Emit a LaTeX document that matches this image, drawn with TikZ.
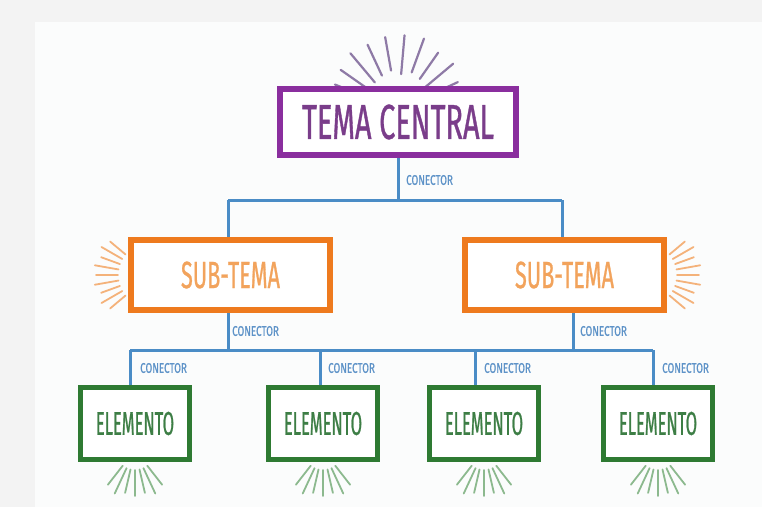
\documentclass[tikz,border=0pt]{standalone}
\usepackage{fontspec}
\newfontfamily\centralfont[FakeStretch=0.59,FakeBold=0.7]{Fira Sans}
\newfontfamily\subfont[FakeStretch=0.57,FakeBold=0.7]{Fira Sans}
\newfontfamily\elemfont[FakeStretch=0.5,FakeBold=0.7]{Fira Sans}
\newfontfamily\connfont[FakeStretch=0.7,FakeBold=0.6]{Fira Sans}
\definecolor{bgout}{HTML}{F3F3F3}
\definecolor{bgin}{HTML}{FBFCFC}
\definecolor{purp}{HTML}{8A2E9E}
\definecolor{purptext}{HTML}{7A3D8A}
\definecolor{purpray}{HTML}{8E7AA6}
\definecolor{oran}{HTML}{EE7A1E}
\definecolor{orantext}{HTML}{F2A35C}
\definecolor{oranray}{HTML}{F4B27A}
\definecolor{gree}{HTML}{2E7A32}
\definecolor{greetext}{HTML}{3D7E45}
\definecolor{greeray}{HTML}{8CB98E}
\definecolor{conn}{HTML}{4A8CC6}
\definecolor{conntext}{HTML}{5E93C8}
\begin{document}
\begin{tikzpicture}[x=1pt,y=-1pt,
  central/.style={draw=purp,line width=6pt,fill=white,minimum width=236pt,minimum height=66pt,inner sep=0pt,
    font=\centralfont\fontsize{49}{49}\selectfont,text=purptext},
  subtema/.style={draw=oran,line width=6pt,fill=white,minimum width=199pt,minimum height=70pt,inner sep=0pt,
    font=\subfont\fontsize{38}{38}\selectfont,text=orantext},
  elemento/.style={draw=gree,line width=5pt,fill=white,minimum width=109pt,minimum height=72pt,inner sep=0pt,
    font=\elemfont\fontsize{33}{33}\selectfont,text=greetext},
  link/.style={draw=conn,line width=3pt},
  conlabel/.style={anchor=west,inner sep=0pt,font=\connfont\fontsize{14}{14}\selectfont,text=conntext},
  ray/.style={line width=2.2pt,line cap=round}
]
\useasboundingbox (0,0) rectangle (762,507);
\fill[bgout] (0,0) rectangle (762,507);
\fill[bgin] (35,22) rectangle (762,507);

% rays
\foreach \a/\ri/\r in {25/38/66,40/36/72,55/38/70,70/40/76,85/36/75,100/40/74,115/38/72,130/36/74,145/38/70,158/40/68}
  \draw[ray,purpray,shift={(398,110)}] ({cos(\a)*\ri},{-sin(\a)*\ri}) -- ({cos(\a)*\r},{-sin(\a)*\r});
\foreach \a/\r in {140/52,150/56,160/52,170/56,180/54,190/56,200/52,210/56,220/52}
  \draw[ray,oranray,line width=1.8pt,shift={(150,275)}] ({cos(\a)*32},{-sin(\a)*32}) -- ({cos(\a)*\r},{-sin(\a)*\r});
\foreach \a/\r in {-40/52,-30/56,-20/52,-10/56,0/54,10/56,20/52,30/56,40/52}
  \draw[ray,oranray,line width=1.8pt,shift={(645,275)}] ({cos(\a)*32},{-sin(\a)*32}) -- ({cos(\a)*\r},{-sin(\a)*\r});
\foreach \cx in {135,323,484,658}
  \foreach \a/\r in {232/44,245/48,257/44,270/46,283/44,295/48,308/44}
    \draw[ray,greeray,line width=1.8pt,shift={(\cx,450)}] ({cos(\a)*20},{-sin(\a)*20}) -- ({cos(\a)*\r},{-sin(\a)*\r});

% nodes
\node[central] (tc) at (398,122) {TEMA CENTRAL};
\node[subtema] (st1) at (230.5,275) {SUB-TEMA};
\node[subtema] (st2) at (564.5,275) {SUB-TEMA};
\node[elemento] (el1) at (135,423.5) {ELEMENTO};
\node[elemento] (el2) at (323,423.5) {ELEMENTO};
\node[elemento] (el3) at (484,423.5) {ELEMENTO};
\node[elemento] (el4) at (658,423.5) {ELEMENTO};

% junctions
\coordinate (j0) at (398,200);
\coordinate (ja) at (228,200);
\coordinate (jb) at (562,200);
\coordinate (s1) at (228,313);
\coordinate (s2) at (573,313);
\coordinate (k1) at (228,350);
\coordinate (k2) at (573,350);
\coordinate (b1) at (130,350);
\coordinate (b2) at (320,350);
\coordinate (b3) at (475,350);
\coordinate (b4) at (653,350);

% connectors
\draw[link] (tc.south) -- (j0);
\draw[link] (ja) -- (jb);
\draw[link] (ja) -- (ja |- st1.north);
\draw[link] (jb) -- (jb |- st2.north);
\draw[link] (s1) -- (k1);
\draw[link] (s2) -- (k2);
\draw[link] (b1) -- (b4);
\draw[link] (b1) -- (b1 |- el1.north);
\draw[link] (b2) -- (b2 |- el2.north);
\draw[link] (b3) -- (b3 |- el3.north);
\draw[link] (b4) -- (b4 |- el4.north);

% labels
\node[conlabel] (c0) at (406,180) {CONECTOR};
\node[conlabel] (c1) at (232,331) {CONECTOR};
\node[conlabel] (c2) at (580,331) {CONECTOR};
\node[conlabel] (c3) at (140,368) {CONECTOR};
\node[conlabel] (c4) at (328,368) {CONECTOR};
\node[conlabel] (c5) at (484,368) {CONECTOR};
\node[conlabel] (c6) at (662,368) {CONECTOR};
\end{tikzpicture}
\end{document}
